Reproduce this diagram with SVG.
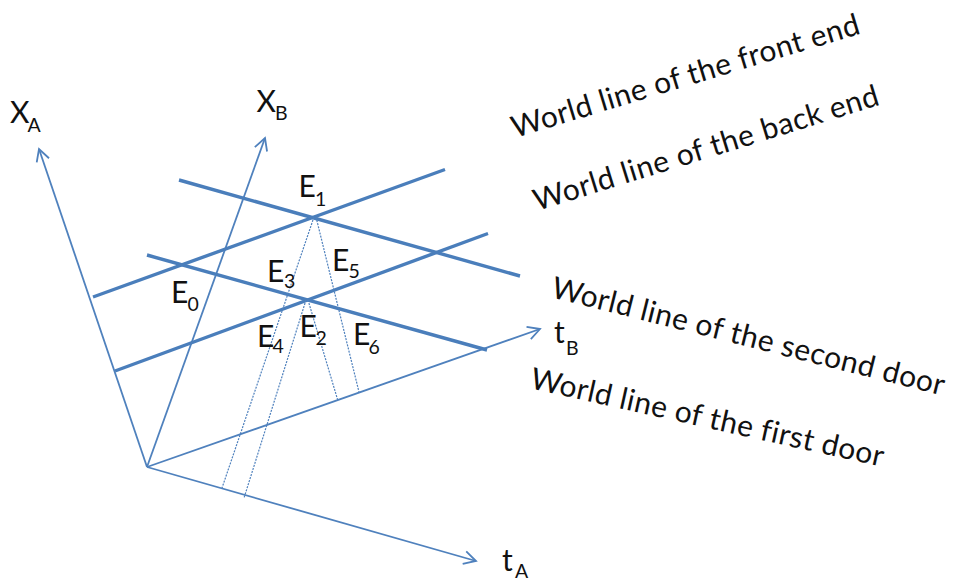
<svg xmlns="http://www.w3.org/2000/svg" width="956" height="580" viewBox="0 0 956 580">
<defs>
<style>
.axis{stroke:#4f81bd;stroke-width:1.8;fill:none}
.wl{stroke:#4a7ebb;stroke-width:3.4;fill:none;stroke-linecap:butt}
.dot{stroke:#4f81bd;stroke-width:1.2;fill:none;stroke-dasharray:2 1.2}
.lbl{font-family:Lato,"Liberation Sans",sans-serif;font-size:30px;fill:#111}
.sub{font-size:19.5px}
.cap{font-family:Lato,"Liberation Sans",sans-serif;font-size:30px;fill:#111;font-variant-ligatures:none}
</style>
<marker id="arr" markerUnits="userSpaceOnUse" markerWidth="30" markerHeight="30" viewBox="-15 -15 30 30" refX="0" refY="0" orient="auto">
<path d="M-12,-6.5 L0,0 L-12,6.5" fill="none" stroke="#4f81bd" stroke-width="1.8"/>
</marker>
</defs>
<rect width="956" height="580" fill="#fff"/>
<g id="connectors">
<g id="axes">
<line class="axis" x1="147" y1="467" x2="39" y2="149" marker-end="url(#arr)"/>
<line class="axis" x1="147" y1="467" x2="265" y2="138" marker-end="url(#arr)"/>
<line class="axis" x1="147" y1="467" x2="476" y2="561" marker-end="url(#arr)"/>
<line class="axis" x1="147" y1="467" x2="540" y2="329" marker-end="url(#arr)"/>
</g>
<g id="world-lines">
<line id="front-end" class="wl" x1="93" y1="297" x2="445" y2="169.5"/>
<line id="back-end" class="wl" x1="115" y1="371" x2="488" y2="233.5"/>
<line id="second-door" class="wl" x1="179" y1="180" x2="520" y2="276"/>
<line id="first-door" class="wl" x1="147" y1="255" x2="487" y2="350"/>
</g>
<g id="projections">
<line class="dot" x1="314" y1="217" x2="222" y2="488"/>
<line class="dot" x1="316" y1="217" x2="359" y2="392"/>
<line class="dot" x1="306" y1="300" x2="244" y2="498"/>
<line class="dot" x1="308" y1="300" x2="338" y2="401"/>
</g>
</g>
<g id="axis-labels">
<g id="xa"><text class="lbl" x="10" y="123">X<tspan class="sub" x="27.5" y="131.7">A</tspan></text></g>
<g id="xb"><text class="lbl" x="256.5" y="112">X<tspan class="sub" x="275" y="120">B</tspan></text></g>
<g id="ta"><text class="lbl" x="502" y="571">t<tspan class="sub" x="515" y="577.5">A</tspan></text></g>
<g id="tb"><text class="lbl" x="554" y="343.3">t<tspan class="sub" x="566" y="355">B</tspan></text></g>
</g>
<g id="events">
<g id="E0"><text class="lbl" x="171" y="303.3">E<tspan class="sub" x="187.5" y="310.7">0</tspan></text></g>
<g id="E1"><text class="lbl" x="298.5" y="196.7">E<tspan class="sub" x="315" y="205.7">1</tspan></text></g>
<g id="E2"><text class="lbl" x="299.5" y="337.3">E<tspan class="sub" x="315.5" y="345">2</tspan></text></g>
<g id="E3"><text class="lbl" x="267" y="281.7">E<tspan class="sub" x="284" y="288.3">3</tspan></text></g>
<g id="E4"><text class="lbl" x="257" y="346.7">E<tspan class="sub" x="272.5" y="353.3">4</tspan></text></g>
<g id="E5"><text class="lbl" x="332" y="270.7">E<tspan class="sub" x="348.5" y="278.3">5</tspan></text></g>
<g id="E6"><text class="lbl" x="353" y="345">E<tspan class="sub" x="368.5" y="354">6</tspan></text></g>
</g>
<g id="captions">
<text class="cap" x="515" y="138" transform="rotate(-16.8 515 138)" textLength="362">World line of the front end</text>
<text class="cap" x="537" y="211" transform="rotate(-17.2 537 211)" textLength="360">World line of the back end</text>
<text class="cap" x="550" y="297" transform="rotate(14.1 550 297)" textLength="404">World line of the second door</text>
<text class="cap" x="529" y="388" transform="rotate(12.6 529 388)" textLength="361">World line of the first door</text>
</g>
</svg>
